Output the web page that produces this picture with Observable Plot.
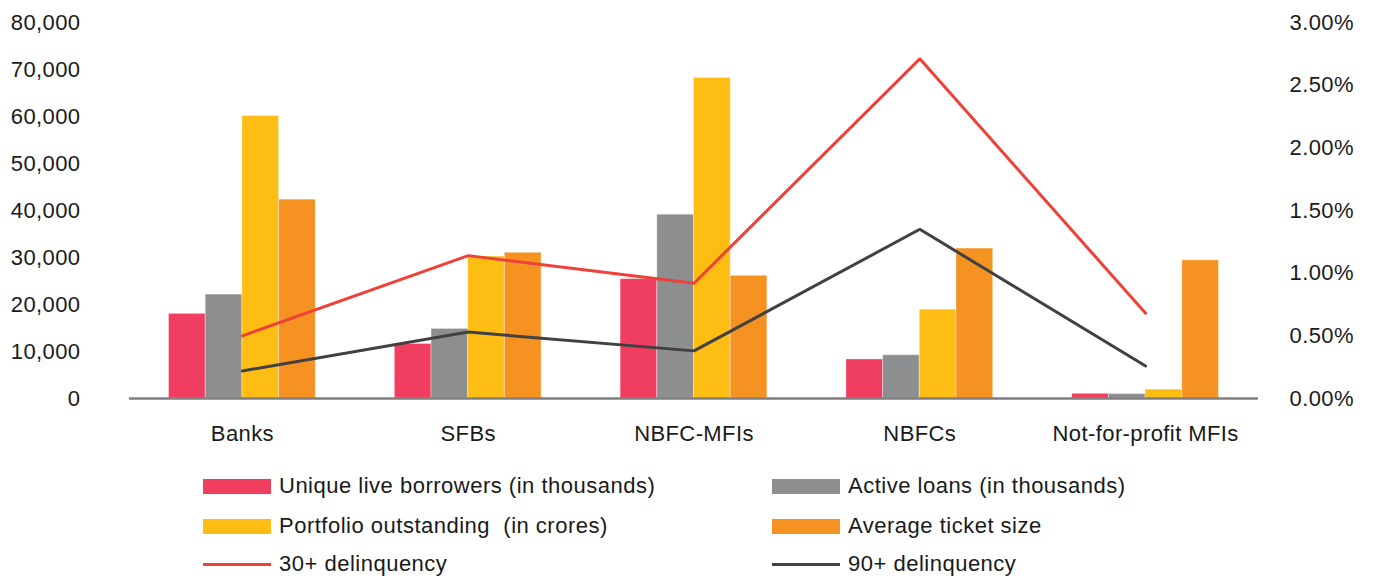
<!DOCTYPE html>
<html><head><meta charset="utf-8">
<script src="https://cdn.jsdelivr.net/npm/d3@7"></script>
<script src="https://cdn.jsdelivr.net/npm/@observablehq/plot@0.6"></script>
<style>
body{margin:0;background:#fff;font-family:"Liberation Sans",Arial,Helvetica,sans-serif;}
#wrap{position:relative;width:1375px;height:579px;overflow:hidden;}
.leg{position:absolute;display:flex;align-items:center;font-size:22px;letter-spacing:0.5px;color:#1a1a1a;white-space:nowrap;height:30px;}
.sw{width:68px;margin-right:8px;flex:none;}
</style></head><body>
<div id="wrap"><div id="chart"></div><div id="legend"></div></div>
<script>
// ---- data ----
const categories = ["Banks", "SFBs", "NBFC-MFIs", "NBFCs", "Not-for-profit MFIs"];
const uniqueBorrowers = [18000, 11600, 25400, 8300, 1000];
const activeLoans = [22100, 14800, 39100, 9200, 950];
const portfolioOutstanding = [60100, 30200, 68200, 18900, 1900];
const avgTicketSize = [42300, 31000, 26100, 31900, 29400];
const delinquency30 = [0.50, 1.14, 0.92, 2.71, 0.68]; // percent
const delinquency90 = [0.22, 0.53, 0.38, 1.35, 0.26]; // percent
const leftTicks = [0, 10000, 20000, 30000, 40000, 50000, 60000, 70000, 80000];
const rightTicks = [0, 0.5, 1.0, 1.5, 2.0, 2.5, 3.0];

const barSeries = [
  {name: "Unique live borrowers (in thousands)", values: uniqueBorrowers, color: "#EF3E5F"},
  {name: "Active loans (in thousands)", values: activeLoans, color: "#8D8E90"},
  {name: "Portfolio outstanding  (in crores)", values: portfolioOutstanding, color: "#FDBD13"},
  {name: "Average ticket size", values: avgTicketSize, color: "#F69222"}
];
const lineSeries = [
  {name: "30+ delinquency", values: delinquency30, color: "#EE4137"},
  {name: "90+ delinquency", values: delinquency90, color: "#414042"}
];

// ---- layout ----
const W = 1375, H = 460, mL = 129, mR = 117, mT = 22, mB = 62;
const leftMax = 80000, rightMax = 3.0;
const toLeft = p => p * leftMax / rightMax;
const paddingInner = 0.35;
const step = (W - mL - mR) / categories.length;
const bandwidth = step * (1 - paddingInner);
const bw = bandwidth / barSeries.length;

const marks = [];
barSeries.forEach((s, i) => {
  marks.push(Plot.barY(categories.map((c, j) => ({category: c, value: s.values[j]})), {
    x: "category", y: "value", fill: s.color,
    stroke: "#fff", strokeOpacity: 0.35, strokeWidth: 1,
    insetLeft: i * bw, insetRight: (barSeries.length - 1 - i) * bw
  }));
});
marks.push(Plot.ruleY([0], {stroke: "#7f7f7f", strokeWidth: 2.5}));
lineSeries.forEach(s => {
  marks.push(Plot.line(categories.map((c, j) => ({category: c, value: toLeft(s.values[j])})), {
    x: "category", y: "value", stroke: s.color, strokeWidth: 3, strokeLinejoin: "miter"
  }));
});
marks.push(Plot.axisY({anchor: "left", ticks: leftTicks, tickFormat: d3.format(","), tickSize: 0, tickPadding: 49, label: null}));
marks.push(Plot.axisY({anchor: "right", ticks: rightTicks.map(toLeft), tickFormat: d => (d * rightMax / leftMax).toFixed(2) + "%", tickSize: 0, tickPadding: 31, label: null}));
marks.push(Plot.axisX({tickSize: 0, tickPadding: 27, label: null}));

const chart = Plot.plot({
  width: W, height: H,
  marginLeft: mL, marginRight: mR, marginTop: mT, marginBottom: mB,
  style: {fontFamily: "'Liberation Sans', Arial, Helvetica, sans-serif", fontSize: "22px", color: "#1a1a1a", background: "#fff", letterSpacing: "0.4px"},
  x: {type: "band", domain: categories, paddingInner: paddingInner, paddingOuter: paddingInner / 2, round: false},
  y: {domain: [0, leftMax], round: false},
  marks
});
document.getElementById("chart").appendChild(chart);

// ---- legend ----
const legendItems = [
  {...barSeries[0], kind: "rect"}, {...barSeries[1], kind: "rect"},
  {...barSeries[2], kind: "rect"}, {...barSeries[3], kind: "rect"},
  {...lineSeries[0], kind: "line"}, {...lineSeries[1], kind: "line"}
];
const colX = [203, 772], rowY = [486, 526, 564];
const legend = document.getElementById("legend");
legendItems.forEach((it, k) => {
  const d = document.createElement("div");
  d.className = "leg";
  d.style.left = colX[k % 2] + "px";
  d.style.top = (rowY[Math.floor(k / 2)] - 15) + "px";
  const sw = document.createElement("span");
  sw.className = "sw";
  sw.style.background = it.color;
  sw.style.height = it.kind === "rect" ? "15px" : "3px";
  const t = document.createElement("span");
  t.textContent = it.name;
  t.style.whiteSpace = "pre";
  d.appendChild(sw); d.appendChild(t);
  legend.appendChild(d);
});
</script>
</body></html>
